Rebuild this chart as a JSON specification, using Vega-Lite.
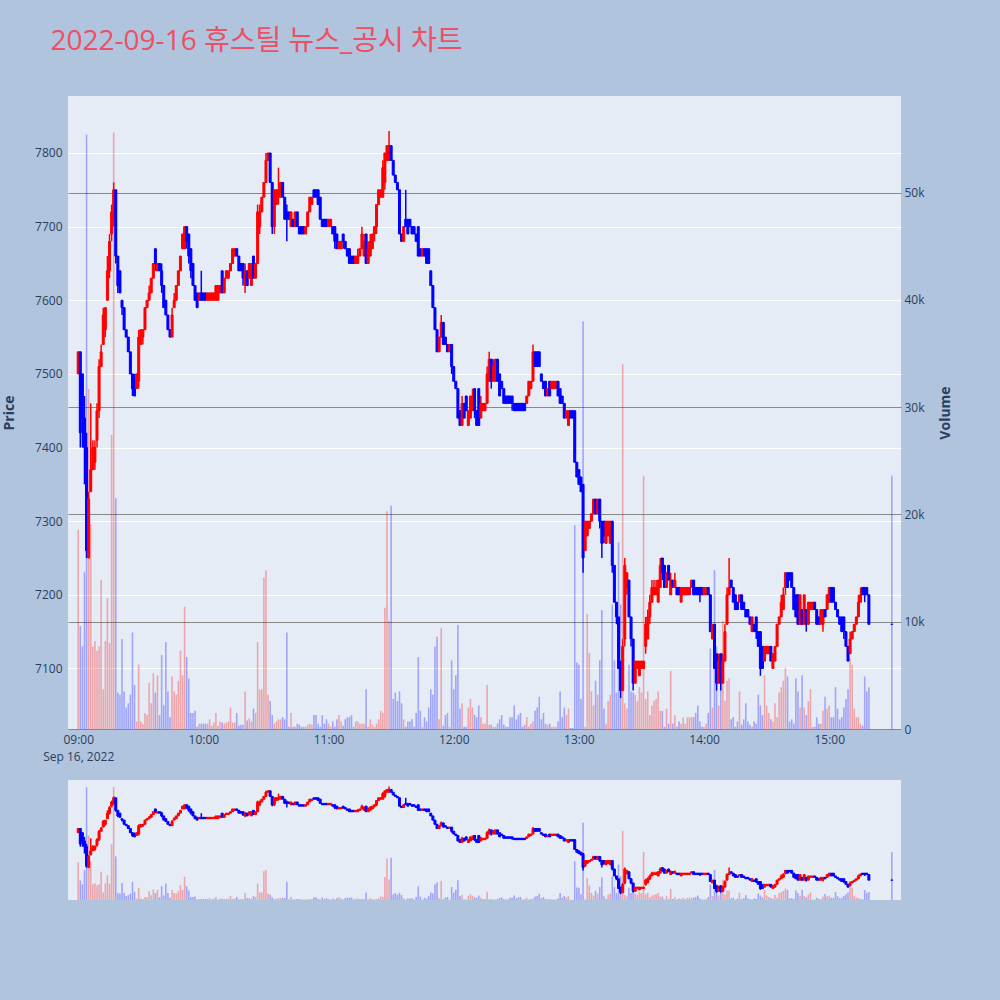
{"$schema":"https://vega.github.io/schema/vega-lite/v6.json","background":"#B0C4DE","padding":{"left":2,"top":28,"right":47,"bottom":100},"config":{"font":"Open Sans","view":{"stroke":null,"fill":"#E5ECF6"},"axis":{"labelFont":"Open Sans","labelFontSize":12,"labelColor":"#2a3f5f","titleFont":"Open Sans","titleColor":"#2a3f5f","domain":false,"ticks":false,"tickSize":0,"labelFlush":false}},"title":{"text":"2022-09-16 휴스틸 뉴스_공시 차트","anchor":"start","fontSize":28,"fontWeight":"normal","font":"Open Sans, Noto Sans CJK KR","color":"#EC5064","offset":40,"dx":48},"spacing":18,
"data":{"values":[
{"t":"2022-09-16T09:00Z","o":7500,"h":7530,"l":7500,"c":7530,"v":18600},
{"t":"2022-09-16T09:01Z","o":7530,"h":7530,"l":7400,"c":7420,"v":9600},
{"t":"2022-09-16T09:02Z","o":7500,"h":7500,"l":7400,"c":7440,"v":7700},
{"t":"2022-09-16T09:03Z","o":7440,"h":7470,"l":7350,"c":7400,"v":14600},
{"t":"2022-09-16T09:04Z","o":7400,"h":7420,"l":7250,"c":7260,"v":55400},
{"t":"2022-09-16T09:05Z","o":7250,"h":7340,"l":7250,"c":7330,"v":31700},
{"t":"2022-09-16T09:06Z","o":7340,"h":7460,"l":7340,"c":7370,"v":19100},
{"t":"2022-09-16T09:07Z","o":7370,"h":7410,"l":7370,"c":7400,"v":7700},
{"t":"2022-09-16T09:08Z","o":7380,"h":7410,"l":7370,"c":7400,"v":8200},
{"t":"2022-09-16T09:09Z","o":7410,"h":7460,"l":7400,"c":7450,"v":7300},
{"t":"2022-09-16T09:10Z","o":7450,"h":7520,"l":7440,"c":7510,"v":7700},
{"t":"2022-09-16T09:11Z","o":7510,"h":7540,"l":7510,"c":7530,"v":13900},
{"t":"2022-09-16T09:12Z","o":7540,"h":7590,"l":7540,"c":7580,"v":3700},
{"t":"2022-09-16T09:13Z","o":7560,"h":7590,"l":7550,"c":7590,"v":8200},
{"t":"2022-09-16T09:14Z","o":7600,"h":7660,"l":7600,"c":7640,"v":12200},
{"t":"2022-09-16T09:15Z","o":7640,"h":7690,"l":7630,"c":7680,"v":8000},
{"t":"2022-09-16T09:16Z","o":7690,"h":7730,"l":7680,"c":7720,"v":27400},
{"t":"2022-09-16T09:17Z","o":7710,"h":7760,"l":7700,"c":7750,"v":55600},
{"t":"2022-09-16T09:18Z","o":7750,"h":7750,"l":7650,"c":7660,"v":21500},
{"t":"2022-09-16T09:19Z","o":7660,"h":7660,"l":7610,"c":7620,"v":3400},
{"t":"2022-09-16T09:20Z","o":7640,"h":7640,"l":7610,"c":7610,"v":3200},
{"t":"2022-09-16T09:21Z","o":7600,"h":7600,"l":7580,"c":7590,"v":8400},
{"t":"2022-09-16T09:22Z","o":7590,"h":7590,"l":7560,"c":7560,"v":3500},
{"t":"2022-09-16T09:23Z","o":7560,"h":7560,"l":7550,"c":7550,"v":2000},
{"t":"2022-09-16T09:24Z","o":7550,"h":7550,"l":7530,"c":7530,"v":2400},
{"t":"2022-09-16T09:25Z","o":7530,"h":7530,"l":7500,"c":7500,"v":3200},
{"t":"2022-09-16T09:26Z","o":7500,"h":7500,"l":7470,"c":7480,"v":9000},
{"t":"2022-09-16T09:27Z","o":7490,"h":7500,"l":7470,"c":7470,"v":4100},
{"t":"2022-09-16T09:28Z","o":7480,"h":7500,"l":7480,"c":7500,"v":700},
{"t":"2022-09-16T09:29Z","o":7490,"h":7560,"l":7480,"c":7550,"v":6000},
{"t":"2022-09-16T09:30Z","o":7540,"h":7560,"l":7540,"c":7560,"v":700},
{"t":"2022-09-16T09:31Z","o":7550,"h":7560,"l":7540,"c":7560,"v":500},
{"t":"2022-09-16T09:32Z","o":7560,"h":7590,"l":7560,"c":7590,"v":1500},
{"t":"2022-09-16T09:33Z","o":7590,"h":7600,"l":7590,"c":7600,"v":1300},
{"t":"2022-09-16T09:34Z","o":7600,"h":7620,"l":7600,"c":7610,"v":4300},
{"t":"2022-09-16T09:35Z","o":7610,"h":7630,"l":7610,"c":7630,"v":2400},
{"t":"2022-09-16T09:36Z","o":7630,"h":7650,"l":7630,"c":7650,"v":5200},
{"t":"2022-09-16T09:37Z","o":7670,"h":7670,"l":7640,"c":7650,"v":3400},
{"t":"2022-09-16T09:38Z","o":7640,"h":7650,"l":7640,"c":7650,"v":5000},
{"t":"2022-09-16T09:39Z","o":7650,"h":7650,"l":7640,"c":7640,"v":1300},
{"t":"2022-09-16T09:40Z","o":7640,"h":7650,"l":7610,"c":7620,"v":6900},
{"t":"2022-09-16T09:41Z","o":7620,"h":7620,"l":7590,"c":7590,"v":2200},
{"t":"2022-09-16T09:42Z","o":7600,"h":7600,"l":7580,"c":7580,"v":8100},
{"t":"2022-09-16T09:43Z","o":7580,"h":7580,"l":7560,"c":7560,"v":3500},
{"t":"2022-09-16T09:44Z","o":7560,"h":7560,"l":7550,"c":7550,"v":1100},
{"t":"2022-09-16T09:45Z","o":7550,"h":7590,"l":7550,"c":7580,"v":4900},
{"t":"2022-09-16T09:46Z","o":7590,"h":7610,"l":7590,"c":7600,"v":3500},
{"t":"2022-09-16T09:47Z","o":7600,"h":7620,"l":7600,"c":7620,"v":3200},
{"t":"2022-09-16T09:48Z","o":7620,"h":7640,"l":7620,"c":7640,"v":4500},
{"t":"2022-09-16T09:49Z","o":7640,"h":7660,"l":7640,"c":7660,"v":7300},
{"t":"2022-09-16T09:50Z","o":7670,"h":7690,"l":7670,"c":7690,"v":5000},
{"t":"2022-09-16T09:51Z","o":7670,"h":7700,"l":7670,"c":7700,"v":11400},
{"t":"2022-09-16T09:52Z","o":7700,"h":7700,"l":7670,"c":7680,"v":6700},
{"t":"2022-09-16T09:53Z","o":7690,"h":7690,"l":7650,"c":7660,"v":4700},
{"t":"2022-09-16T09:54Z","o":7670,"h":7670,"l":7630,"c":7640,"v":1500},
{"t":"2022-09-16T09:55Z","o":7650,"h":7650,"l":7620,"c":7620,"v":1500},
{"t":"2022-09-16T09:56Z","o":7620,"h":7620,"l":7600,"c":7600,"v":1700},
{"t":"2022-09-16T09:57Z","o":7610,"h":7610,"l":7590,"c":7590,"v":200},
{"t":"2022-09-16T09:58Z","o":7600,"h":7610,"l":7600,"c":7610,"v":500},
{"t":"2022-09-16T09:59Z","o":7610,"h":7640,"l":7600,"c":7600,"v":500},
{"t":"2022-09-16T10:00Z","o":7610,"h":7610,"l":7600,"c":7600,"v":500},
{"t":"2022-09-16T10:01Z","o":7610,"h":7610,"l":7600,"c":7600,"v":500},
{"t":"2022-09-16T10:02Z","o":7600,"h":7610,"l":7600,"c":7610,"v":500},
{"t":"2022-09-16T10:03Z","o":7600,"h":7610,"l":7600,"c":7610,"v":900},
{"t":"2022-09-16T10:04Z","o":7600,"h":7610,"l":7600,"c":7610,"v":300},
{"t":"2022-09-16T10:05Z","o":7600,"h":7610,"l":7600,"c":7610,"v":600},
{"t":"2022-09-16T10:06Z","o":7600,"h":7620,"l":7600,"c":7620,"v":1500},
{"t":"2022-09-16T10:07Z","o":7600,"h":7620,"l":7600,"c":7620,"v":300},
{"t":"2022-09-16T10:08Z","o":7610,"h":7620,"l":7610,"c":7620,"v":700},
{"t":"2022-09-16T10:09Z","o":7640,"h":7640,"l":7610,"c":7610,"v":600},
{"t":"2022-09-16T10:10Z","o":7610,"h":7630,"l":7610,"c":7630,"v":500},
{"t":"2022-09-16T10:11Z","o":7630,"h":7640,"l":7630,"c":7640,"v":600},
{"t":"2022-09-16T10:12Z","o":7630,"h":7640,"l":7630,"c":7640,"v":700},
{"t":"2022-09-16T10:13Z","o":7640,"h":7650,"l":7640,"c":7650,"v":2000},
{"t":"2022-09-16T10:14Z","o":7650,"h":7670,"l":7650,"c":7670,"v":600},
{"t":"2022-09-16T10:15Z","o":7660,"h":7670,"l":7660,"c":7670,"v":600},
{"t":"2022-09-16T10:16Z","o":7670,"h":7670,"l":7660,"c":7660,"v":1500},
{"t":"2022-09-16T10:17Z","o":7660,"h":7660,"l":7640,"c":7640,"v":300},
{"t":"2022-09-16T10:18Z","o":7650,"h":7650,"l":7640,"c":7640,"v":400},
{"t":"2022-09-16T10:19Z","o":7650,"h":7650,"l":7620,"c":7630,"v":400},
{"t":"2022-09-16T10:20Z","o":7620,"h":7650,"l":7610,"c":7640,"v":3500},
{"t":"2022-09-16T10:21Z","o":7640,"h":7640,"l":7620,"c":7620,"v":800},
{"t":"2022-09-16T10:22Z","o":7630,"h":7650,"l":7630,"c":7650,"v":1000},
{"t":"2022-09-16T10:23Z","o":7620,"h":7650,"l":7620,"c":7650,"v":700},
{"t":"2022-09-16T10:24Z","o":7660,"h":7660,"l":7630,"c":7630,"v":1900},
{"t":"2022-09-16T10:25Z","o":7630,"h":7650,"l":7630,"c":7650,"v":1500},
{"t":"2022-09-16T10:26Z","o":7650,"h":7730,"l":7650,"c":7720,"v":8100},
{"t":"2022-09-16T10:27Z","o":7700,"h":7730,"l":7690,"c":7720,"v":3700},
{"t":"2022-09-16T10:28Z","o":7720,"h":7740,"l":7720,"c":7740,"v":3700},
{"t":"2022-09-16T10:29Z","o":7740,"h":7760,"l":7740,"c":7760,"v":14100},
{"t":"2022-09-16T10:30Z","o":7760,"h":7800,"l":7760,"c":7790,"v":14800},
{"t":"2022-09-16T10:31Z","o":7790,"h":7800,"l":7790,"c":7800,"v":3200},
{"t":"2022-09-16T10:32Z","o":7800,"h":7800,"l":7760,"c":7760,"v":2600},
{"t":"2022-09-16T10:33Z","o":7760,"h":7760,"l":7690,"c":7700,"v":1300},
{"t":"2022-09-16T10:34Z","o":7700,"h":7750,"l":7690,"c":7750,"v":500},
{"t":"2022-09-16T10:35Z","o":7730,"h":7750,"l":7730,"c":7750,"v":700},
{"t":"2022-09-16T10:36Z","o":7740,"h":7780,"l":7730,"c":7750,"v":900},
{"t":"2022-09-16T10:37Z","o":7740,"h":7760,"l":7740,"c":7760,"v":900},
{"t":"2022-09-16T10:38Z","o":7760,"h":7760,"l":7740,"c":7740,"v":1100},
{"t":"2022-09-16T10:39Z","o":7740,"h":7740,"l":7710,"c":7710,"v":900},
{"t":"2022-09-16T10:40Z","o":7720,"h":7730,"l":7680,"c":7710,"v":9000},
{"t":"2022-09-16T10:41Z","o":7720,"h":7720,"l":7710,"c":7710,"v":200},
{"t":"2022-09-16T10:42Z","o":7700,"h":7720,"l":7700,"c":7720,"v":1500},
{"t":"2022-09-16T10:43Z","o":7710,"h":7710,"l":7700,"c":7700,"v":200},
{"t":"2022-09-16T10:44Z","o":7700,"h":7720,"l":7700,"c":7720,"v":200},
{"t":"2022-09-16T10:45Z","o":7720,"h":7720,"l":7700,"c":7700,"v":500},
{"t":"2022-09-16T10:46Z","o":7700,"h":7700,"l":7690,"c":7690,"v":400},
{"t":"2022-09-16T10:47Z","o":7700,"h":7700,"l":7690,"c":7690,"v":200},
{"t":"2022-09-16T10:48Z","o":7700,"h":7700,"l":7690,"c":7690,"v":200},
{"t":"2022-09-16T10:49Z","o":7690,"h":7700,"l":7690,"c":7700,"v":200},
{"t":"2022-09-16T10:50Z","o":7700,"h":7720,"l":7700,"c":7720,"v":400},
{"t":"2022-09-16T10:51Z","o":7720,"h":7740,"l":7720,"c":7740,"v":500},
{"t":"2022-09-16T10:52Z","o":7730,"h":7740,"l":7730,"c":7740,"v":400},
{"t":"2022-09-16T10:53Z","o":7750,"h":7750,"l":7740,"c":7740,"v":1300},
{"t":"2022-09-16T10:54Z","o":7750,"h":7750,"l":7740,"c":7740,"v":1300},
{"t":"2022-09-16T10:55Z","o":7750,"h":7750,"l":7730,"c":7730,"v":500},
{"t":"2022-09-16T10:56Z","o":7740,"h":7740,"l":7710,"c":7710,"v":200},
{"t":"2022-09-16T10:57Z","o":7710,"h":7710,"l":7700,"c":7700,"v":1300},
{"t":"2022-09-16T10:58Z","o":7710,"h":7710,"l":7700,"c":7700,"v":500},
{"t":"2022-09-16T10:59Z","o":7710,"h":7710,"l":7700,"c":7700,"v":900},
{"t":"2022-09-16T11:00Z","o":7700,"h":7710,"l":7700,"c":7710,"v":500},
{"t":"2022-09-16T11:01Z","o":7700,"h":7710,"l":7700,"c":7710,"v":200},
{"t":"2022-09-16T11:02Z","o":7700,"h":7700,"l":7690,"c":7690,"v":700},
{"t":"2022-09-16T11:03Z","o":7700,"h":7700,"l":7670,"c":7680,"v":200},
{"t":"2022-09-16T11:04Z","o":7690,"h":7690,"l":7670,"c":7670,"v":900},
{"t":"2022-09-16T11:05Z","o":7670,"h":7680,"l":7670,"c":7680,"v":1300},
{"t":"2022-09-16T11:06Z","o":7670,"h":7680,"l":7670,"c":7680,"v":700},
{"t":"2022-09-16T11:07Z","o":7690,"h":7690,"l":7670,"c":7680,"v":300},
{"t":"2022-09-16T11:08Z","o":7680,"h":7680,"l":7670,"c":7670,"v":900},
{"t":"2022-09-16T11:09Z","o":7670,"h":7670,"l":7660,"c":7660,"v":1100},
{"t":"2022-09-16T11:10Z","o":7670,"h":7670,"l":7650,"c":7650,"v":1100},
{"t":"2022-09-16T11:11Z","o":7660,"h":7660,"l":7650,"c":7650,"v":1300},
{"t":"2022-09-16T11:12Z","o":7660,"h":7660,"l":7650,"c":7650,"v":200},
{"t":"2022-09-16T11:13Z","o":7650,"h":7660,"l":7650,"c":7660,"v":700},
{"t":"2022-09-16T11:14Z","o":7650,"h":7670,"l":7650,"c":7660,"v":700},
{"t":"2022-09-16T11:15Z","o":7660,"h":7670,"l":7660,"c":7670,"v":500},
{"t":"2022-09-16T11:16Z","o":7670,"h":7700,"l":7670,"c":7690,"v":500},
{"t":"2022-09-16T11:17Z","o":7660,"h":7690,"l":7660,"c":7680,"v":500},
{"t":"2022-09-16T11:18Z","o":7690,"h":7690,"l":7650,"c":7650,"v":3700},
{"t":"2022-09-16T11:19Z","o":7650,"h":7680,"l":7650,"c":7670,"v":200},
{"t":"2022-09-16T11:20Z","o":7660,"h":7690,"l":7660,"c":7680,"v":900},
{"t":"2022-09-16T11:21Z","o":7670,"h":7690,"l":7670,"c":7690,"v":400},
{"t":"2022-09-16T11:22Z","o":7690,"h":7700,"l":7680,"c":7700,"v":200},
{"t":"2022-09-16T11:23Z","o":7700,"h":7730,"l":7690,"c":7730,"v":500},
{"t":"2022-09-16T11:24Z","o":7730,"h":7750,"l":7730,"c":7750,"v":900},
{"t":"2022-09-16T11:25Z","o":7740,"h":7750,"l":7740,"c":7750,"v":1700},
{"t":"2022-09-16T11:26Z","o":7740,"h":7790,"l":7740,"c":7780,"v":1500},
{"t":"2022-09-16T11:27Z","o":7760,"h":7800,"l":7750,"c":7800,"v":11300},
{"t":"2022-09-16T11:28Z","o":7790,"h":7810,"l":7790,"c":7810,"v":20300},
{"t":"2022-09-16T11:29Z","o":7790,"h":7830,"l":7790,"c":7810,"v":10100},
{"t":"2022-09-16T11:30Z","o":7810,"h":7810,"l":7790,"c":7790,"v":20800},
{"t":"2022-09-16T11:31Z","o":7790,"h":7790,"l":7770,"c":7770,"v":2800},
{"t":"2022-09-16T11:32Z","o":7770,"h":7770,"l":7760,"c":7760,"v":3400},
{"t":"2022-09-16T11:33Z","o":7760,"h":7760,"l":7750,"c":7750,"v":2600},
{"t":"2022-09-16T11:34Z","o":7750,"h":7750,"l":7690,"c":7690,"v":3500},
{"t":"2022-09-16T11:35Z","o":7690,"h":7690,"l":7680,"c":7680,"v":2400},
{"t":"2022-09-16T11:36Z","o":7680,"h":7700,"l":7680,"c":7700,"v":900},
{"t":"2022-09-16T11:37Z","o":7710,"h":7750,"l":7700,"c":7700,"v":200},
{"t":"2022-09-16T11:38Z","o":7710,"h":7710,"l":7690,"c":7690,"v":700},
{"t":"2022-09-16T11:39Z","o":7710,"h":7710,"l":7700,"c":7700,"v":700},
{"t":"2022-09-16T11:40Z","o":7700,"h":7700,"l":7690,"c":7690,"v":900},
{"t":"2022-09-16T11:41Z","o":7700,"h":7700,"l":7690,"c":7690,"v":200},
{"t":"2022-09-16T11:42Z","o":7690,"h":7690,"l":7680,"c":7680,"v":1500},
{"t":"2022-09-16T11:43Z","o":7700,"h":7700,"l":7660,"c":7660,"v":6700},
{"t":"2022-09-16T11:44Z","o":7670,"h":7670,"l":7660,"c":7660,"v":1700},
{"t":"2022-09-16T11:45Z","o":7660,"h":7670,"l":7660,"c":7670,"v":200},
{"t":"2022-09-16T11:46Z","o":7670,"h":7670,"l":7660,"c":7660,"v":1100},
{"t":"2022-09-16T11:47Z","o":7670,"h":7670,"l":7650,"c":7650,"v":700},
{"t":"2022-09-16T11:48Z","o":7670,"h":7670,"l":7650,"c":7650,"v":2000},
{"t":"2022-09-16T11:49Z","o":7640,"h":7640,"l":7620,"c":7620,"v":3700},
{"t":"2022-09-16T11:50Z","o":7620,"h":7620,"l":7590,"c":7590,"v":3200},
{"t":"2022-09-16T11:51Z","o":7590,"h":7590,"l":7560,"c":7560,"v":7700},
{"t":"2022-09-16T11:52Z","o":7560,"h":7560,"l":7530,"c":7530,"v":8600},
{"t":"2022-09-16T11:53Z","o":7530,"h":7550,"l":7530,"c":7550,"v":900},
{"t":"2022-09-16T11:54Z","o":7550,"h":7580,"l":7550,"c":7570,"v":9400},
{"t":"2022-09-16T11:55Z","o":7570,"h":7570,"l":7540,"c":7540,"v":300},
{"t":"2022-09-16T11:56Z","o":7550,"h":7550,"l":7540,"c":7540,"v":1300},
{"t":"2022-09-16T11:57Z","o":7540,"h":7540,"l":7530,"c":7530,"v":1500},
{"t":"2022-09-16T11:58Z","o":7530,"h":7540,"l":7530,"c":7540,"v":200},
{"t":"2022-09-16T11:59Z","o":7540,"h":7540,"l":7500,"c":7510,"v":6400},
{"t":"2022-09-16T12:00Z","o":7510,"h":7510,"l":7490,"c":7490,"v":3700},
{"t":"2022-09-16T12:01Z","o":7490,"h":7490,"l":7480,"c":7480,"v":5000},
{"t":"2022-09-16T12:02Z","o":7480,"h":7480,"l":7440,"c":7440,"v":9700},
{"t":"2022-09-16T12:03Z","o":7450,"h":7450,"l":7430,"c":7430,"v":1900},
{"t":"2022-09-16T12:04Z","o":7430,"h":7470,"l":7430,"c":7460,"v":2400},
{"t":"2022-09-16T12:05Z","o":7460,"h":7460,"l":7440,"c":7440,"v":200},
{"t":"2022-09-16T12:06Z","o":7470,"h":7470,"l":7450,"c":7450,"v":200},
{"t":"2022-09-16T12:07Z","o":7430,"h":7450,"l":7430,"c":7450,"v":2000},
{"t":"2022-09-16T12:08Z","o":7440,"h":7470,"l":7440,"c":7470,"v":2800},
{"t":"2022-09-16T12:09Z","o":7450,"h":7480,"l":7450,"c":7470,"v":2000},
{"t":"2022-09-16T12:10Z","o":7480,"h":7480,"l":7440,"c":7450,"v":1300},
{"t":"2022-09-16T12:11Z","o":7450,"h":7450,"l":7430,"c":7430,"v":1100},
{"t":"2022-09-16T12:12Z","o":7480,"h":7480,"l":7430,"c":7430,"v":2200},
{"t":"2022-09-16T12:13Z","o":7440,"h":7470,"l":7440,"c":7460,"v":1100},
{"t":"2022-09-16T12:14Z","o":7450,"h":7460,"l":7450,"c":7460,"v":500},
{"t":"2022-09-16T12:15Z","o":7450,"h":7460,"l":7450,"c":7460,"v":500},
{"t":"2022-09-16T12:16Z","o":7460,"h":7510,"l":7460,"c":7500,"v":4100},
{"t":"2022-09-16T12:17Z","o":7490,"h":7530,"l":7490,"c":7520,"v":400},
{"t":"2022-09-16T12:18Z","o":7520,"h":7520,"l":7480,"c":7490,"v":400},
{"t":"2022-09-16T12:19Z","o":7490,"h":7520,"l":7490,"c":7510,"v":200},
{"t":"2022-09-16T12:20Z","o":7490,"h":7520,"l":7490,"c":7520,"v":200},
{"t":"2022-09-16T12:21Z","o":7520,"h":7520,"l":7490,"c":7490,"v":500},
{"t":"2022-09-16T12:22Z","o":7500,"h":7500,"l":7470,"c":7470,"v":900},
{"t":"2022-09-16T12:23Z","o":7490,"h":7490,"l":7480,"c":7480,"v":1300},
{"t":"2022-09-16T12:24Z","o":7480,"h":7480,"l":7460,"c":7460,"v":400},
{"t":"2022-09-16T12:25Z","o":7470,"h":7470,"l":7460,"c":7460,"v":200},
{"t":"2022-09-16T12:26Z","o":7470,"h":7470,"l":7460,"c":7460,"v":200},
{"t":"2022-09-16T12:27Z","o":7470,"h":7470,"l":7460,"c":7460,"v":1100},
{"t":"2022-09-16T12:28Z","o":7470,"h":7470,"l":7450,"c":7460,"v":1100},
{"t":"2022-09-16T12:29Z","o":7460,"h":7460,"l":7450,"c":7450,"v":2200},
{"t":"2022-09-16T12:30Z","o":7460,"h":7460,"l":7450,"c":7450,"v":900},
{"t":"2022-09-16T12:31Z","o":7460,"h":7460,"l":7450,"c":7450,"v":1300},
{"t":"2022-09-16T12:32Z","o":7460,"h":7460,"l":7450,"c":7450,"v":1500},
{"t":"2022-09-16T12:33Z","o":7460,"h":7460,"l":7450,"c":7450,"v":200},
{"t":"2022-09-16T12:34Z","o":7460,"h":7460,"l":7450,"c":7450,"v":400},
{"t":"2022-09-16T12:35Z","o":7460,"h":7470,"l":7460,"c":7470,"v":1100},
{"t":"2022-09-16T12:36Z","o":7470,"h":7490,"l":7470,"c":7490,"v":200},
{"t":"2022-09-16T12:37Z","o":7480,"h":7490,"l":7480,"c":7490,"v":500},
{"t":"2022-09-16T12:38Z","o":7490,"h":7540,"l":7490,"c":7530,"v":700},
{"t":"2022-09-16T12:39Z","o":7530,"h":7530,"l":7510,"c":7510,"v":1700},
{"t":"2022-09-16T12:40Z","o":7530,"h":7530,"l":7510,"c":7510,"v":2000},
{"t":"2022-09-16T12:41Z","o":7530,"h":7530,"l":7510,"c":7510,"v":3000},
{"t":"2022-09-16T12:42Z","o":7500,"h":7500,"l":7490,"c":7490,"v":900},
{"t":"2022-09-16T12:43Z","o":7490,"h":7490,"l":7480,"c":7480,"v":1500},
{"t":"2022-09-16T12:44Z","o":7490,"h":7490,"l":7470,"c":7470,"v":500},
{"t":"2022-09-16T12:45Z","o":7470,"h":7480,"l":7470,"c":7480,"v":400},
{"t":"2022-09-16T12:46Z","o":7490,"h":7490,"l":7470,"c":7470,"v":500},
{"t":"2022-09-16T12:47Z","o":7480,"h":7490,"l":7480,"c":7490,"v":200},
{"t":"2022-09-16T12:48Z","o":7480,"h":7490,"l":7480,"c":7490,"v":200},
{"t":"2022-09-16T12:49Z","o":7480,"h":7490,"l":7480,"c":7490,"v":200},
{"t":"2022-09-16T12:50Z","o":7490,"h":7490,"l":7470,"c":7470,"v":700},
{"t":"2022-09-16T12:51Z","o":7480,"h":7480,"l":7460,"c":7460,"v":3500},
{"t":"2022-09-16T12:52Z","o":7470,"h":7470,"l":7460,"c":7460,"v":1100},
{"t":"2022-09-16T12:53Z","o":7460,"h":7460,"l":7440,"c":7440,"v":2000},
{"t":"2022-09-16T12:54Z","o":7440,"h":7450,"l":7440,"c":7450,"v":1300},
{"t":"2022-09-16T12:55Z","o":7430,"h":7450,"l":7430,"c":7450,"v":1900},
{"t":"2022-09-16T12:56Z","o":7450,"h":7450,"l":7440,"c":7440,"v":100},
{"t":"2022-09-16T12:57Z","o":7450,"h":7450,"l":7440,"c":7440,"v":100},
{"t":"2022-09-16T12:58Z","o":7450,"h":7450,"l":7380,"c":7380,"v":19000},
{"t":"2022-09-16T12:59Z","o":7380,"h":7380,"l":7360,"c":7360,"v":6200},
{"t":"2022-09-16T13:00Z","o":7370,"h":7370,"l":7350,"c":7350,"v":6000},
{"t":"2022-09-16T13:01Z","o":7360,"h":7360,"l":7340,"c":7340,"v":2800},
{"t":"2022-09-16T13:02Z","o":7350,"h":7350,"l":7230,"c":7250,"v":38000},
{"t":"2022-09-16T13:03Z","o":7260,"h":7300,"l":7260,"c":7300,"v":200},
{"t":"2022-09-16T13:04Z","o":7280,"h":7300,"l":7280,"c":7300,"v":10700},
{"t":"2022-09-16T13:05Z","o":7290,"h":7300,"l":7290,"c":7300,"v":7100},
{"t":"2022-09-16T13:06Z","o":7300,"h":7310,"l":7300,"c":7310,"v":3500},
{"t":"2022-09-16T13:07Z","o":7310,"h":7330,"l":7310,"c":7330,"v":2200},
{"t":"2022-09-16T13:08Z","o":7330,"h":7330,"l":7310,"c":7310,"v":4500},
{"t":"2022-09-16T13:09Z","o":7310,"h":7330,"l":7310,"c":7330,"v":3200},
{"t":"2022-09-16T13:10Z","o":7330,"h":7330,"l":7290,"c":7300,"v":6400},
{"t":"2022-09-16T13:11Z","o":7300,"h":7300,"l":7250,"c":7270,"v":11100},
{"t":"2022-09-16T13:12Z","o":7300,"h":7300,"l":7270,"c":7280,"v":1900},
{"t":"2022-09-16T13:13Z","o":7270,"h":7300,"l":7270,"c":7300,"v":500},
{"t":"2022-09-16T13:14Z","o":7280,"h":7300,"l":7280,"c":7300,"v":2600},
{"t":"2022-09-16T13:15Z","o":7270,"h":7300,"l":7270,"c":7300,"v":3200},
{"t":"2022-09-16T13:16Z","o":7300,"h":7300,"l":7230,"c":7240,"v":11600},
{"t":"2022-09-16T13:17Z","o":7240,"h":7240,"l":7190,"c":7190,"v":6400},
{"t":"2022-09-16T13:18Z","o":7190,"h":7190,"l":7160,"c":7170,"v":3400},
{"t":"2022-09-16T13:19Z","o":7170,"h":7170,"l":7100,"c":7100,"v":17400},
{"t":"2022-09-16T13:20Z","o":7110,"h":7110,"l":7060,"c":7070,"v":11600},
{"t":"2022-09-16T13:21Z","o":7070,"h":7140,"l":7070,"c":7130,"v":34000},
{"t":"2022-09-16T13:22Z","o":7140,"h":7250,"l":7130,"c":7240,"v":2400},
{"t":"2022-09-16T13:23Z","o":7210,"h":7230,"l":7200,"c":7230,"v":1900},
{"t":"2022-09-16T13:24Z","o":7220,"h":7220,"l":7170,"c":7170,"v":6000},
{"t":"2022-09-16T13:25Z","o":7170,"h":7170,"l":7130,"c":7140,"v":3500},
{"t":"2022-09-16T13:26Z","o":7140,"h":7140,"l":7070,"c":7080,"v":3400},
{"t":"2022-09-16T13:27Z","o":7080,"h":7110,"l":7080,"c":7110,"v":3200},
{"t":"2022-09-16T13:28Z","o":7100,"h":7110,"l":7100,"c":7110,"v":2600},
{"t":"2022-09-16T13:29Z","o":7090,"h":7110,"l":7090,"c":7110,"v":3900},
{"t":"2022-09-16T13:30Z","o":7100,"h":7110,"l":7100,"c":7110,"v":3400},
{"t":"2022-09-16T13:31Z","o":7100,"h":7110,"l":7100,"c":7110,"v":23600},
{"t":"2022-09-16T13:32Z","o":7130,"h":7170,"l":7120,"c":7160,"v":2800},
{"t":"2022-09-16T13:33Z","o":7140,"h":7180,"l":7140,"c":7170,"v":3500},
{"t":"2022-09-16T13:34Z","o":7170,"h":7200,"l":7160,"c":7190,"v":1300},
{"t":"2022-09-16T13:35Z","o":7190,"h":7220,"l":7190,"c":7210,"v":2200},
{"t":"2022-09-16T13:36Z","o":7200,"h":7220,"l":7200,"c":7210,"v":2600},
{"t":"2022-09-16T13:37Z","o":7200,"h":7220,"l":7200,"c":7210,"v":2800},
{"t":"2022-09-16T13:38Z","o":7190,"h":7220,"l":7190,"c":7220,"v":3500},
{"t":"2022-09-16T13:39Z","o":7210,"h":7250,"l":7210,"c":7240,"v":1700},
{"t":"2022-09-16T13:40Z","o":7250,"h":7250,"l":7220,"c":7230,"v":1700},
{"t":"2022-09-16T13:41Z","o":7240,"h":7240,"l":7210,"c":7210,"v":200},
{"t":"2022-09-16T13:42Z","o":7210,"h":7230,"l":7210,"c":7230,"v":1900},
{"t":"2022-09-16T13:43Z","o":7240,"h":7240,"l":7220,"c":7220,"v":500},
{"t":"2022-09-16T13:44Z","o":7200,"h":7230,"l":7200,"c":7220,"v":5400},
{"t":"2022-09-16T13:45Z","o":7220,"h":7220,"l":7210,"c":7210,"v":500},
{"t":"2022-09-16T13:46Z","o":7210,"h":7230,"l":7210,"c":7220,"v":1300},
{"t":"2022-09-16T13:47Z","o":7210,"h":7210,"l":7200,"c":7200,"v":200},
{"t":"2022-09-16T13:48Z","o":7210,"h":7210,"l":7200,"c":7200,"v":700},
{"t":"2022-09-16T13:49Z","o":7190,"h":7210,"l":7190,"c":7210,"v":500},
{"t":"2022-09-16T13:50Z","o":7200,"h":7210,"l":7200,"c":7210,"v":1100},
{"t":"2022-09-16T13:51Z","o":7200,"h":7210,"l":7200,"c":7210,"v":500},
{"t":"2022-09-16T13:52Z","o":7200,"h":7210,"l":7200,"c":7210,"v":1100},
{"t":"2022-09-16T13:53Z","o":7200,"h":7210,"l":7200,"c":7210,"v":1100},
{"t":"2022-09-16T13:54Z","o":7210,"h":7220,"l":7210,"c":7220,"v":1100},
{"t":"2022-09-16T13:55Z","o":7220,"h":7220,"l":7200,"c":7200,"v":1100},
{"t":"2022-09-16T13:56Z","o":7210,"h":7210,"l":7200,"c":7200,"v":1500},
{"t":"2022-09-16T13:57Z","o":7210,"h":7210,"l":7200,"c":7200,"v":2200},
{"t":"2022-09-16T13:58Z","o":7210,"h":7210,"l":7190,"c":7200,"v":700},
{"t":"2022-09-16T13:59Z","o":7210,"h":7210,"l":7200,"c":7200,"v":200},
{"t":"2022-09-16T14:00Z","o":7200,"h":7210,"l":7200,"c":7210,"v":200},
{"t":"2022-09-16T14:01Z","o":7200,"h":7210,"l":7200,"c":7210,"v":500},
{"t":"2022-09-16T14:02Z","o":7210,"h":7210,"l":7200,"c":7200,"v":1500},
{"t":"2022-09-16T14:03Z","o":7200,"h":7200,"l":7150,"c":7150,"v":7500},
{"t":"2022-09-16T14:04Z","o":7140,"h":7160,"l":7140,"c":7160,"v":2000},
{"t":"2022-09-16T14:05Z","o":7160,"h":7160,"l":7100,"c":7100,"v":14800},
{"t":"2022-09-16T14:06Z","o":7120,"h":7120,"l":7070,"c":7080,"v":7700},
{"t":"2022-09-16T14:07Z","o":7080,"h":7120,"l":7080,"c":7110,"v":2200},
{"t":"2022-09-16T14:08Z","o":7120,"h":7120,"l":7070,"c":7080,"v":4300},
{"t":"2022-09-16T14:09Z","o":7080,"h":7120,"l":7080,"c":7110,"v":10100},
{"t":"2022-09-16T14:10Z","o":7110,"h":7160,"l":7110,"c":7150,"v":2600},
{"t":"2022-09-16T14:11Z","o":7160,"h":7210,"l":7160,"c":7200,"v":4500},
{"t":"2022-09-16T14:12Z","o":7200,"h":7250,"l":7200,"c":7210,"v":4700},
{"t":"2022-09-16T14:13Z","o":7220,"h":7220,"l":7210,"c":7210,"v":900},
{"t":"2022-09-16T14:14Z","o":7210,"h":7210,"l":7190,"c":7190,"v":1100},
{"t":"2022-09-16T14:15Z","o":7200,"h":7200,"l":7180,"c":7180,"v":200},
{"t":"2022-09-16T14:16Z","o":7190,"h":7190,"l":7180,"c":7180,"v":700},
{"t":"2022-09-16T14:17Z","o":7190,"h":7200,"l":7190,"c":7200,"v":3500},
{"t":"2022-09-16T14:18Z","o":7200,"h":7200,"l":7180,"c":7180,"v":400},
{"t":"2022-09-16T14:19Z","o":7190,"h":7190,"l":7180,"c":7180,"v":900},
{"t":"2022-09-16T14:20Z","o":7180,"h":7180,"l":7170,"c":7170,"v":2400},
{"t":"2022-09-16T14:21Z","o":7180,"h":7180,"l":7170,"c":7170,"v":700},
{"t":"2022-09-16T14:22Z","o":7170,"h":7170,"l":7160,"c":7160,"v":400},
{"t":"2022-09-16T14:23Z","o":7150,"h":7170,"l":7150,"c":7170,"v":200},
{"t":"2022-09-16T14:24Z","o":7160,"h":7160,"l":7150,"c":7150,"v":700},
{"t":"2022-09-16T14:25Z","o":7170,"h":7170,"l":7140,"c":7150,"v":500},
{"t":"2022-09-16T14:26Z","o":7150,"h":7150,"l":7130,"c":7130,"v":3200},
{"t":"2022-09-16T14:27Z","o":7150,"h":7150,"l":7090,"c":7100,"v":2200},
{"t":"2022-09-16T14:28Z","o":7130,"h":7130,"l":7100,"c":7100,"v":1300},
{"t":"2022-09-16T14:29Z","o":7110,"h":7130,"l":7110,"c":7130,"v":5000},
{"t":"2022-09-16T14:30Z","o":7120,"h":7130,"l":7120,"c":7130,"v":2200},
{"t":"2022-09-16T14:31Z","o":7120,"h":7130,"l":7120,"c":7130,"v":1500},
{"t":"2022-09-16T14:32Z","o":7130,"h":7130,"l":7110,"c":7110,"v":900},
{"t":"2022-09-16T14:33Z","o":7100,"h":7120,"l":7100,"c":7120,"v":700},
{"t":"2022-09-16T14:34Z","o":7110,"h":7130,"l":7110,"c":7130,"v":2400},
{"t":"2022-09-16T14:35Z","o":7130,"h":7160,"l":7130,"c":7160,"v":1100},
{"t":"2022-09-16T14:36Z","o":7160,"h":7170,"l":7160,"c":7170,"v":3400},
{"t":"2022-09-16T14:37Z","o":7170,"h":7200,"l":7170,"c":7190,"v":3900},
{"t":"2022-09-16T14:38Z","o":7180,"h":7210,"l":7180,"c":7200,"v":4500},
{"t":"2022-09-16T14:39Z","o":7210,"h":7230,"l":7200,"c":7230,"v":5700},
{"t":"2022-09-16T14:40Z","o":7230,"h":7230,"l":7210,"c":7210,"v":4900},
{"t":"2022-09-16T14:41Z","o":7230,"h":7230,"l":7220,"c":7220,"v":700},
{"t":"2022-09-16T14:42Z","o":7230,"h":7230,"l":7210,"c":7210,"v":900},
{"t":"2022-09-16T14:43Z","o":7210,"h":7210,"l":7180,"c":7180,"v":500},
{"t":"2022-09-16T14:44Z","o":7200,"h":7200,"l":7170,"c":7170,"v":4700},
{"t":"2022-09-16T14:45Z","o":7200,"h":7200,"l":7160,"c":7160,"v":3500},
{"t":"2022-09-16T14:46Z","o":7160,"h":7200,"l":7160,"c":7200,"v":2000},
{"t":"2022-09-16T14:47Z","o":7180,"h":7180,"l":7160,"c":7160,"v":5000},
{"t":"2022-09-16T14:48Z","o":7160,"h":7200,"l":7160,"c":7200,"v":2000},
{"t":"2022-09-16T14:49Z","o":7180,"h":7180,"l":7150,"c":7160,"v":1300},
{"t":"2022-09-16T14:50Z","o":7160,"h":7190,"l":7160,"c":7190,"v":2600},
{"t":"2022-09-16T14:51Z","o":7180,"h":7190,"l":7180,"c":7190,"v":3700},
{"t":"2022-09-16T14:52Z","o":7180,"h":7190,"l":7180,"c":7190,"v":200},
{"t":"2022-09-16T14:53Z","o":7190,"h":7190,"l":7180,"c":7180,"v":200},
{"t":"2022-09-16T14:54Z","o":7180,"h":7180,"l":7160,"c":7160,"v":1100},
{"t":"2022-09-16T14:55Z","o":7170,"h":7170,"l":7160,"c":7160,"v":500},
{"t":"2022-09-16T14:56Z","o":7160,"h":7180,"l":7160,"c":7180,"v":500},
{"t":"2022-09-16T14:57Z","o":7160,"h":7180,"l":7150,"c":7180,"v":1700},
{"t":"2022-09-16T14:58Z","o":7180,"h":7180,"l":7170,"c":7170,"v":3000},
{"t":"2022-09-16T14:59Z","o":7180,"h":7200,"l":7180,"c":7200,"v":1900},
{"t":"2022-09-16T15:00Z","o":7190,"h":7210,"l":7190,"c":7210,"v":2200},
{"t":"2022-09-16T15:01Z","o":7210,"h":7210,"l":7190,"c":7190,"v":1100},
{"t":"2022-09-16T15:02Z","o":7210,"h":7210,"l":7190,"c":7190,"v":1100},
{"t":"2022-09-16T15:03Z","o":7190,"h":7190,"l":7180,"c":7180,"v":3900},
{"t":"2022-09-16T15:04Z","o":7180,"h":7180,"l":7170,"c":7170,"v":1900},
{"t":"2022-09-16T15:05Z","o":7170,"h":7170,"l":7160,"c":7160,"v":900},
{"t":"2022-09-16T15:06Z","o":7170,"h":7170,"l":7150,"c":7150,"v":1100},
{"t":"2022-09-16T15:07Z","o":7170,"h":7170,"l":7140,"c":7150,"v":2000},
{"t":"2022-09-16T15:08Z","o":7150,"h":7150,"l":7130,"c":7130,"v":2800},
{"t":"2022-09-16T15:09Z","o":7130,"h":7130,"l":7110,"c":7110,"v":3700},
{"t":"2022-09-16T15:10Z","o":7120,"h":7150,"l":7120,"c":7140,"v":6600},
{"t":"2022-09-16T15:11Z","o":7140,"h":7150,"l":7140,"c":7150,"v":6000},
{"t":"2022-09-16T15:12Z","o":7150,"h":7160,"l":7150,"c":7160,"v":1900},
{"t":"2022-09-16T15:13Z","o":7160,"h":7170,"l":7160,"c":7170,"v":1100},
{"t":"2022-09-16T15:14Z","o":7170,"h":7200,"l":7170,"c":7190,"v":1100},
{"t":"2022-09-16T15:15Z","o":7190,"h":7210,"l":7190,"c":7200,"v":500},
{"t":"2022-09-16T15:16Z","o":7210,"h":7210,"l":7200,"c":7200,"v":300},
{"t":"2022-09-16T15:17Z","o":7210,"h":7210,"l":7190,"c":7200,"v":4900},
{"t":"2022-09-16T15:18Z","o":7210,"h":7210,"l":7200,"c":7200,"v":3500},
{"t":"2022-09-16T15:19Z","o":7200,"h":7200,"l":7160,"c":7160,"v":3900},
{"t":"2022-09-16T15:30Z","o":7160,"h":7160,"l":7160,"c":7160,"v":23600}
]},
"vconcat":[
{"width":833,"height":633,
"encoding":{"x":{"field":"t","type":"temporal","scale":{"type":"utc","domain":[1663318650000,1663342320000]},"axis":{"title":null,"grid":false,"values":[1663318800000,1663322400000,1663326000000,1663329600000,1663333200000,1663336800000,1663340400000],"labelPadding":5,"labelOverlap":false,"labelLineHeight":17,"labelExpr":"utchours(datum.value) == 9 ? [utcFormat(datum.value, '%H:%M'), utcFormat(datum.value, '%b %-d, %Y')] : utcFormat(datum.value, '%H:%M')"}}},
"layer":[
{"mark":{"type":"bar","width":1.6,"opacity":0.3},"encoding":{"y":{"field":"v","type":"quantitative","scale":{"domain":[0,59000],"nice":false},"axis":{"orient":"right","title":"Volume","values":[0,10000,20000,30000,40000,50000],"labelExpr":"datum.value == 0 ? '0' : (datum.value / 1000) + 'k'","grid":true,"gridColor":"#888888","gridWidth":1,"labelPadding":3,"titleFontSize":14,"titleFontWeight":"bold","titleAngle":270,"titleBaseline":"top","titlePadding":14}},"color":{"condition":{"test":"datum.c > datum.o","value":"#FF0000"},"value":"#0000FF"}}},
{"layer":[
{"mark":{"type":"rule","strokeWidth":1.5},"encoding":{"y":{"field":"l","type":"quantitative","scale":{"domain":[7017.8,7877.4],"nice":false,"zero":false},"axis":{"orient":"left","title":"Price","format":"d","values":[7100,7200,7300,7400,7500,7600,7700,7800],"grid":true,"gridColor":"#FFFFFF","gridWidth":1,"labelPadding":6,"titleFontSize":14,"titleFontWeight":"bold","titlePadding":18}},"y2":{"field":"h"},"color":{"condition":{"test":"datum.c > datum.o","value":"#FF0000"},"value":"#0000FF"}}},
{"mark":{"type":"bar","width":2,"strokeWidth":1},"encoding":{"y":{"field":"o","type":"quantitative"},"y2":{"field":"c"},"color":{"condition":{"test":"datum.c > datum.o","value":"#FF0000"},"value":"#0000FF"},"stroke":{"condition":{"test":"datum.c > datum.o","value":"#FF0000"},"value":"#0000FF"}}}
]}
],
"resolve":{"scale":{"y":"independent"}}},
{"width":833,"height":120,
"encoding":{"x":{"field":"t","type":"temporal","scale":{"type":"utc","domain":[1663318650000,1663342320000]},"axis":null}},
"layer":[
{"mark":{"type":"bar","width":1.6,"opacity":0.3},"encoding":{"y":{"field":"v","type":"quantitative","scale":{"domain":[0,59000],"nice":false},"axis":null},"color":{"condition":{"test":"datum.c > datum.o","value":"#FF0000"},"value":"#0000FF"}}},
{"layer":[
{"mark":{"type":"rule","strokeWidth":1.5},"encoding":{"y":{"field":"l","type":"quantitative","scale":{"domain":[7017.8,7877.4],"nice":false,"zero":false},"axis":{"orient":"left","title":"Price","format":"d","values":[7800],"grid":false,"labelColor":"transparent","titleColor":"transparent","labelPadding":6,"titleFontSize":14,"titleFontWeight":"bold","titlePadding":18}},"y2":{"field":"h"},"color":{"condition":{"test":"datum.c > datum.o","value":"#FF0000"},"value":"#0000FF"}}},
{"mark":{"type":"bar","width":2,"strokeWidth":1},"encoding":{"y":{"field":"o","type":"quantitative"},"y2":{"field":"c"},"color":{"condition":{"test":"datum.c > datum.o","value":"#FF0000"},"value":"#0000FF"},"stroke":{"condition":{"test":"datum.c > datum.o","value":"#FF0000"},"value":"#0000FF"}}}
]}
],
"resolve":{"scale":{"y":"independent"}}}
]}
